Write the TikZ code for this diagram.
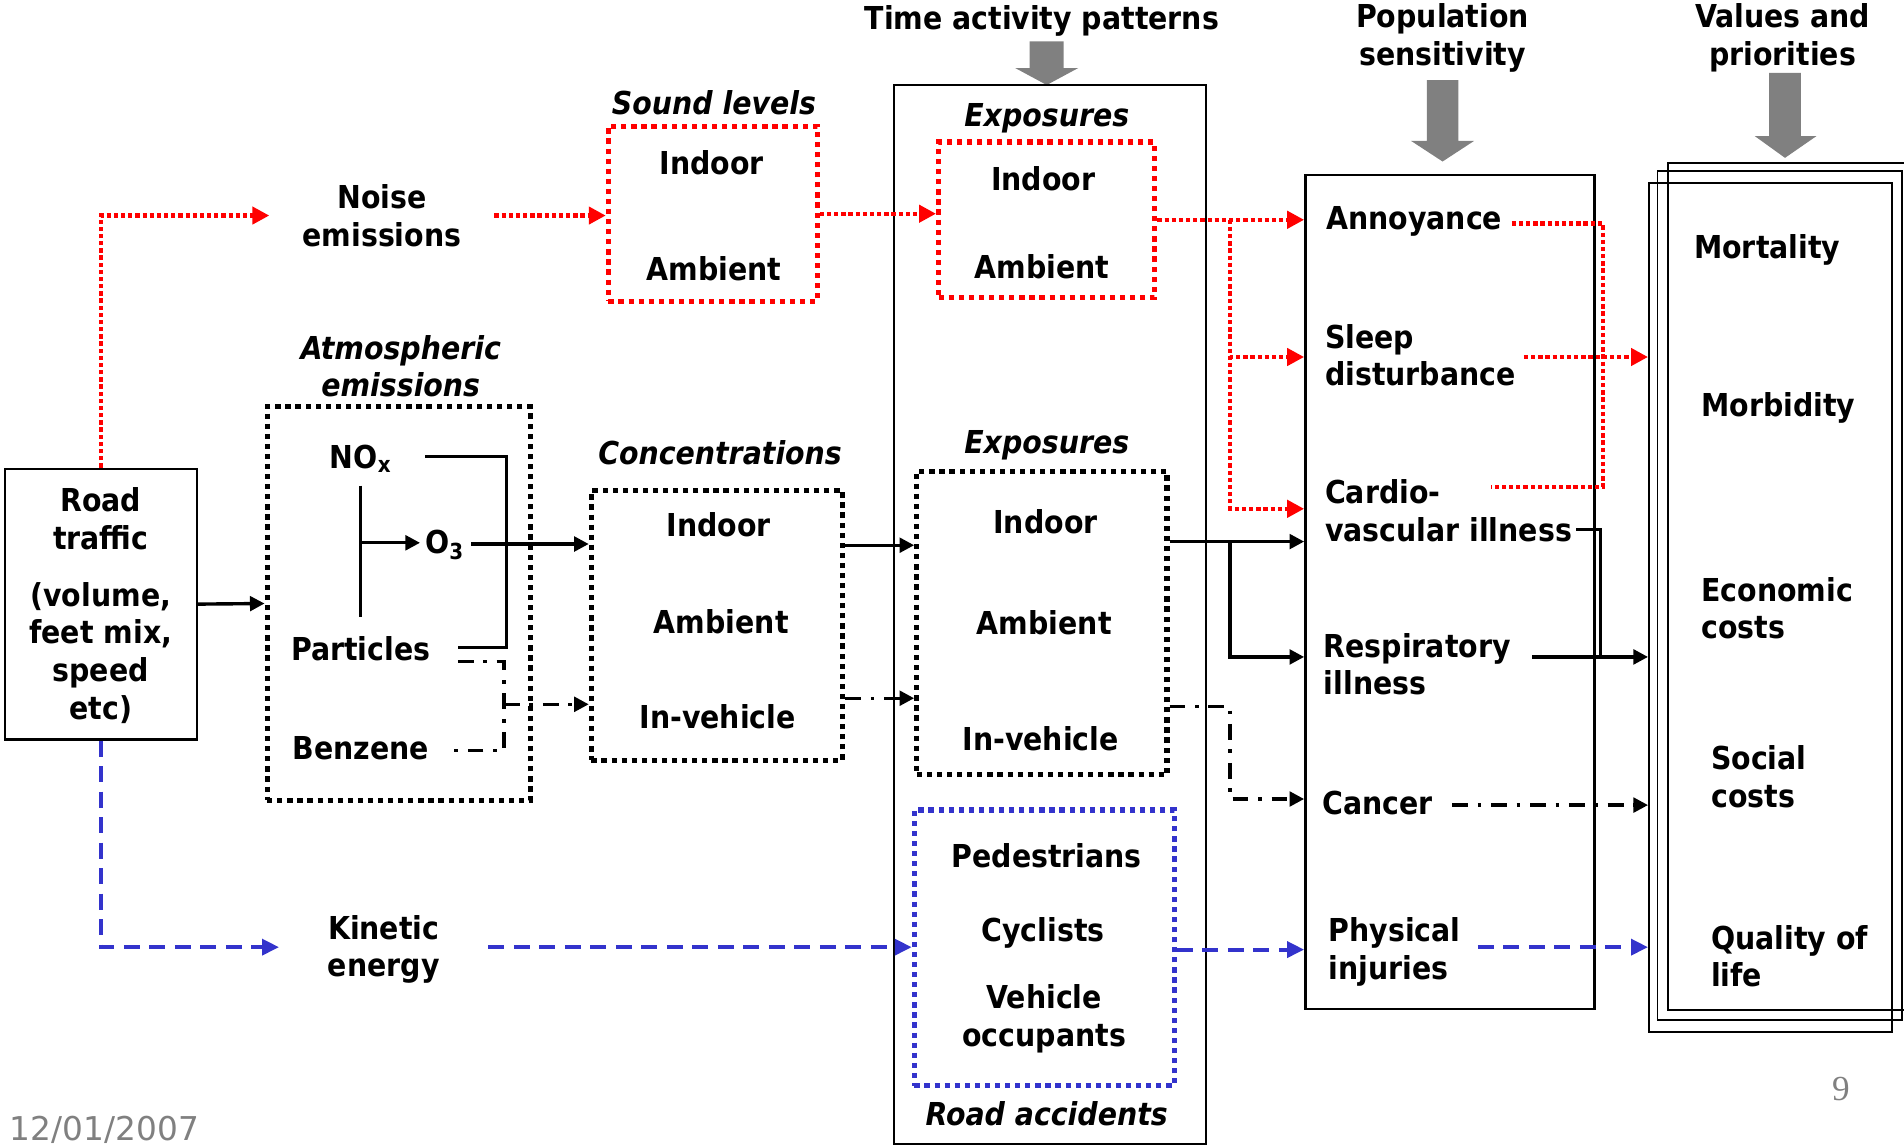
\documentclass[tikz,border=0pt]{standalone}
\usepackage{fontspec}
\setmainfont{DejaVu Sans Condensed}
\newfontfamily\numfont{Liberation Serif}
\newfontfamily\datefont{DejaVu Sans}
\usetikzlibrary{arrows.meta}
\definecolor{noisered}{RGB}{255,0,0}
\definecolor{crashblue}{RGB}{51,51,204}
\definecolor{slidegray}{RGB}{128,128,128}
\begin{document}
\begin{tikzpicture}[x=1pt,y=-1pt,
  lbl/.style={font=\bfseries\fontsize{26}{31}\selectfont, inner sep=0pt, align=center},
  head/.style={font=\bfseries\itshape\fontsize{26}{31}\selectfont, inner sep=0pt, align=center},
  lleft/.style={lbl, align=left, anchor=west},
  frame/.style={draw, line width=1.6pt, inner sep=0pt},
  dotbox/.style={draw, line width=4.3pt, dash pattern=on 4.3pt off 4pt, inner sep=0pt},
  plain/.style={line width=2.8pt},
  flow/.style={plain, -{Triangle[length=12pt,width=12pt]}},
  noiseline/.style={draw=noisered, line width=3.5pt, dash pattern=on 3.5pt off 2.4pt},
  noiseflow/.style={noiseline, -{Triangle[length=14pt,width=14pt]}},
  kinline/.style={draw=crashblue, line width=3.3pt, dash pattern=on 13pt off 8pt},
  kinflow/.style={kinline, -{Triangle[length=14pt,width=13pt]}},
  chem/.style={line width=2.8pt, dash pattern=on 13pt off 8pt on 3pt off 8pt},
  chemflow/.style={chem, -{Triangle[length=12pt,width=12pt]}},
  grayarrow/.style={fill=slidegray, draw=none}
]
\useasboundingbox (0,0) rectangle (1568,943);

% ---------- column headings and their grey arrows ----------
\node[lbl] (tap) at (858,17) {Time activity patterns};
\node[lbl] (popsens) at (1188,31) {Population\\sensitivity};
\node[lbl] (valpri) at (1468,31) {Values and\\priorities};
\fill[grayarrow] (848,34) -- (876,34) -- (876,56) -- (888,56) -- (862,70) -- (836,56) -- (848,56) -- cycle;
\fill[grayarrow] (1175,66) -- (1201,66) -- (1201,116) -- (1214,116) -- (1188,133) -- (1162,116) -- (1175,116) -- cycle;
\fill[grayarrow] (1457,60) -- (1483,60) -- (1483,112) -- (1496,112) -- (1470,130) -- (1445,112) -- (1457,112) -- cycle;

% ---------- frames ----------
\node[frame, line width=1.4pt, minimum width=257, minimum height=872] (expframe) at (864.5,506) {};
\node[frame, line width=2pt, minimum width=238, minimum height=687] (pop) at (1194,487.5) {};
\node[frame, minimum width=201, minimum height=698] (valC) at (1474.5,483) {};
\node[frame, minimum width=201, minimum height=699] (valB) at (1465.5,490.5) {};
\node[frame, minimum width=200, minimum height=699] (valA) at (1458,500.5) {};
\node[frame, line width=2pt, minimum width=158, minimum height=223] (road) at (83,497.5) {};

% ---------- road traffic ----------
\node[lbl] (roadtitle) at (83,427) {Road\\traffic};
\node[lbl] (roadinfo) at (83,537.5) {(volume,\\feet mix,\\speed\\etc)};

% ---------- noise branch ----------
\node[lbl, minimum width=185] (noise) at (314.5,177.5) {Noise\\emissions};
\node[head] (soundhead) at (588,85) {Sound levels};
\node[dotbox, draw=noisered, minimum width=172, minimum height=144] (sound) at (587,176) {};
\node[lbl] (soundin) at (586,134) {Indoor};
\node[lbl] (soundamb) at (588,221) {Ambient};
\node[head] (nexphead) at (862,97) {Exposures};
\node[dotbox, draw=noisered, minimum width=178, minimum height=128] (nexp) at (862,181) {};
\node[lbl] (nexpin) at (859,147) {Indoor};
\node[lbl] (nexpamb) at (858,220) {Ambient};

% ---------- air pollution branch ----------
\node[head] (atmhead) at (330,301.5) {Atmospheric\\emissions};
\node[dotbox, minimum width=217, minimum height=324] (atm) at (328.5,497) {};
\node[lbl] (nox) at (297,378) {NO\textsubscript{x}};
\node[lbl] (o3) at (366,449) {O\textsubscript{3}};
\node[lbl] (part) at (297,534) {Particles};
\node[lbl] (benz) at (297,616) {Benzene};

\node[head] (conchead) at (593,373) {Concentrations};
\node[dotbox, minimum width=207, minimum height=222] (conc) at (590.5,515) {};
\node[lbl] (concin) at (592,432) {Indoor};
\node[lbl] (concamb) at (594,512) {Ambient};
\node[lbl] (concveh) at (591,590) {In-vehicle};

\node[head] (aexphead) at (862,367) {Exposures};
\node[dotbox, minimum width=206, minimum height=250] (aexp) at (858,513) {};
\node[lbl] (aexpin) at (861,430) {Indoor};
\node[lbl] (aexpamb) at (860,513) {Ambient};
\node[lbl] (aexpveh) at (857,608) {In-vehicle};

% ---------- accident branch ----------
\node[lbl, minimum width=172] (kinetic) at (316,782) {Kinetic\\energy};
\node[dotbox, draw=crashblue, minimum width=214, minimum height=227] (crash) at (860,780.5) {};
\node[lbl] (ped) at (862,705) {Pedestrians};
\node[lbl] (cyc) at (859,768) {Cyclists};
\node[lbl] (occ) at (860,839) {Vehicle\\occupants};
\node[head] (crashhead) at (862,917) {Road accidents};

% ---------- health effects ----------
\node[lleft] (annoy) at (1092,182) {Annoyance};
\node[lleft] (sleep) at (1091,292.5) {Sleep\\disturbance};
\node[lleft] (cardio) at (1091,420.5) {Cardio-\\vascular illness};
\node[lleft] (resp) at (1090,547) {Respiratory\\illness};
\node[lleft] (cancer) at (1089,661) {Cancer};
\node[lleft] (injury) at (1094,784) {Physical\\injuries};

% ---------- valuation ----------
\node[lleft] (mort) at (1395,206) {Mortality};
\node[lleft] (morb) at (1401,336) {Morbidity};
\node[lleft] (econ) at (1401,501) {Economic\\costs};
\node[lleft] (social) at (1409,639.5) {Social\\costs};
\node[lleft] (qol) at (1409,787.5) {Quality of\\life};

% ---------- footer ----------
\node[font=\datefont\fontsize{27}{30}\selectfont, text=slidegray, anchor=base west, inner sep=0pt] (date) at (8,939) {12/01/2007};
\node[font=\numfont\fontsize{29}{30}\selectfont, text=slidegray, inner sep=0pt] (pageno) at (1516,897) {9};

% ---------- junction points ----------
\coordinate (rsplit) at (1013,181);
\coordinate (annoyOut) at (1245,184);
\coordinate (noiseBus) at (1320,401);
\coordinate (cardioNoise) at (1228,401);
\coordinate (sleepOut) at (1255,294);
\coordinate (noxOut) at (350,376);
\coordinate (partOut) at (377,533);
\coordinate (pmBus) at (417,533);
\coordinate (mixTop) at (297,400);
\coordinate (mixBot) at (297,508);
\coordinate (mix) at (297,447);
\coordinate (partDash) at (377,545);
\coordinate (benzDash) at (370,618);
\coordinate (chemBus) at (415,580);
\coordinate (bsplit) at (1013,446);
\coordinate (cardioOut) at (1298,436);
\coordinate (respBus) at (1318,541);
\coordinate (respOut) at (1262,541);
\coordinate (dsplit) at (1013,658);
\coordinate (cancerOut) at (1196,663);
\coordinate (injuryOut) at (1217,780);

% ---------- noise connectors ----------
\draw[noiseflow] (road.north) |- (noise.west);
\draw[noiseflow] (noise.east) -- (noise.east -| sound.west);
\draw[noiseflow] (sound.east) -- (sound.east -| nexp.west);
\draw[noiseflow] (nexp.east |- rsplit) -- (rsplit -| pop.west);
\draw[noiseflow] (rsplit) |- (sleepOut -| pop.west);
\draw[noiseflow] (rsplit) |- (pop.west |- 0,419);
\draw[noiseline] (annoyOut) -| (noiseBus) -- (cardioNoise);
\draw[noiseflow] (sleepOut) -- (sleepOut -| valA.west);

% ---------- air pollution connectors ----------
\draw[flow] (road.east) -- (atm.west);
\draw[plain] (noxOut) -| (pmBus) -- (partOut);
\draw[plain] (mixTop) -- (mixBot);
\draw[flow, shorten >=4pt] (mix) -- (mix -| o3.west);
\draw[flow] (o3.east |- 0,448) ++(6,0) -- (conc.west |- 0,448);
\draw[chem] (partDash) -| (benzDash -| chemBus) -- (benzDash);
\draw[chemflow] (chemBus) -- (chemBus -| conc.west);
\draw[flow] (conc.east |- 0,449) -- (aexp.west |- 0,449);
\draw[chemflow] (conc.east |- 0,575) -- (aexp.west |- 0,575);
\draw[flow] (aexp.east |- bsplit) -- (bsplit -| pop.west);
\draw[flow] (bsplit) |- (respOut -| pop.west);
\draw[plain] (cardioOut) -| (respBus);
\draw[flow] (respOut) -- (respOut -| valA.west);
\draw[chemflow] (aexp.east |- 0,582) -| (dsplit) -- (dsplit -| pop.west);
\draw[chemflow] (cancerOut) -- (cancerOut -| valA.west);

% ---------- accident connectors ----------
\draw[kinflow] (road.south) |- (kinetic.west |- 0,780);
\draw[kinflow] (kinetic.east |- 0,780) -- (crash.west |- 0,780);
\draw[kinflow] (crash.east |- 0,782) -- (pop.west |- 0,782);
\draw[kinflow] (injuryOut) -- (injuryOut -| valA.west);
\end{tikzpicture}
\end{document}
